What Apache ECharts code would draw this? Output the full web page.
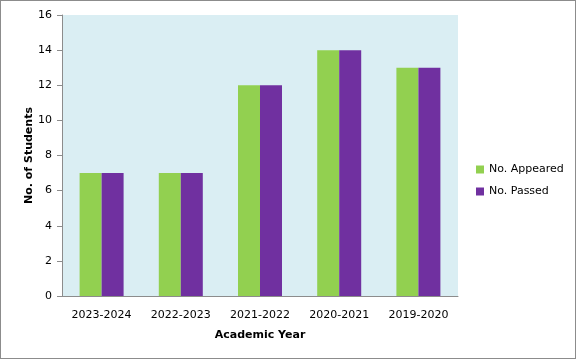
<!DOCTYPE html>
<html><head><meta charset="utf-8">
<script src="https://cdn.jsdelivr.net/npm/echarts@6/dist/echarts.min.js"></script>
<style>html,body{margin:0;padding:0;background:#fff}#c{width:574px;height:357px;border:1px solid #8c8c8c}</style>
</head><body><div id="c"></div>
<script>
const categories = ['2023-2024','2022-2023','2021-2022','2020-2021','2019-2020'];
const appeared = [7,7,12,14,13];
const passed = [7,7,12,14,13];
const chart = echarts.init(document.getElementById('c'));
const font = 'DejaVu Sans';
chart.setOption({
  animation:false,
  backgroundColor:'#fff',
  grid:{left:61,top:14,width:396,height:281,backgroundColor:'#DAEEF3',show:true,borderWidth:0},
  legend:{orient:'vertical',left:470,top:158,itemWidth:8,itemHeight:8,itemGap:11,icon:'rect',
    textStyle:{fontFamily:font,fontSize:11,color:'#000'},data:['No. Appeared','No. Passed']},
  xAxis:{type:'category',data:categories,
    axisLine:{lineStyle:{color:'#8c8c8c'}},axisTick:{show:false},
    axisLabel:{fontFamily:font,fontSize:11,color:'#000',margin:14},
    name:'Academic Year',nameLocation:'middle',nameGap:34,
    nameTextStyle:{fontFamily:font,fontSize:11,fontWeight:'bold',color:'#000'}},
  yAxis:{type:'value',min:0,max:16,interval:2,
    axisLine:{show:true,lineStyle:{color:'#8c8c8c'}},axisTick:{show:true,length:5,lineStyle:{color:'#8c8c8c'}},
    splitLine:{show:false},
    axisLabel:{fontFamily:font,fontSize:11,color:'#000',margin:10},
    name:'No. of Students',nameLocation:'middle',nameGap:27,nameMoveOverlap:false,
    nameTextStyle:{fontFamily:font,fontSize:11,fontWeight:'bold',color:'#000'}},
  series:[
    {name:'No. Appeared',type:'bar',data:appeared,barWidth:22,barGap:'0%',itemStyle:{color:'#92D050'}},
    {name:'No. Passed',type:'bar',data:passed,barWidth:22,barGap:'0%',itemStyle:{color:'#7030A0'}}
  ]
});
</script></body></html>
